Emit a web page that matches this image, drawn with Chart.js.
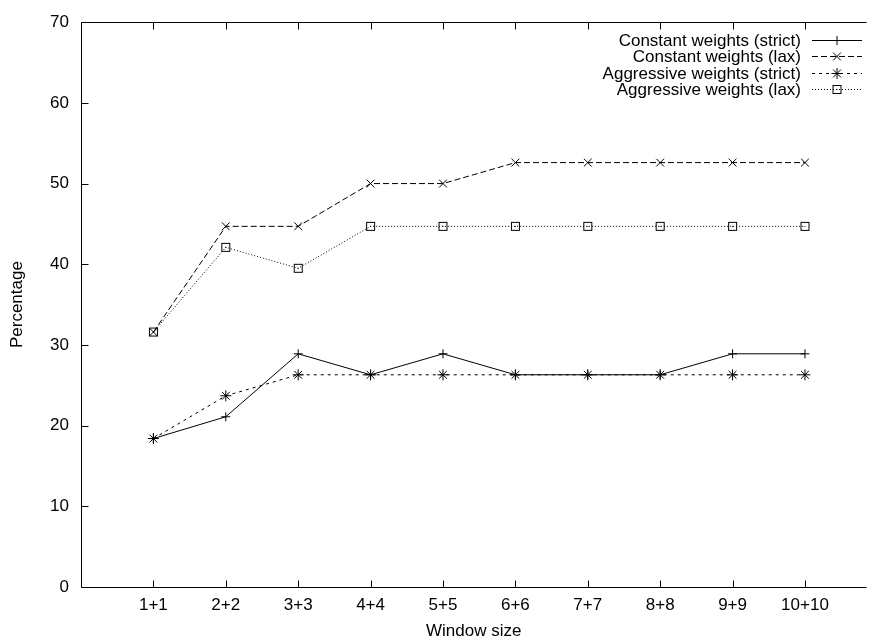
<!DOCTYPE html>
<html>
<head>
<meta charset="utf-8">
<script src="https://cdn.jsdelivr.net/npm/chart.js@4/dist/chart.umd.min.js"></script>
<style>
  html, body { margin: 0; padding: 0; background: #fff; }
  #wrap { width: 873px; height: 639px; }
</style>
</head>
<body>
<div id="wrap"><canvas id="plot"></canvas></div>
<script>
const windowSizes = ['1+1', '2+2', '3+3', '4+4', '5+5', '6+6', '7+7', '8+8', '9+9', '10+10'];
const seriesNames = ['Constant weights (strict)', 'Constant weights (lax)', 'Aggressive weights (strict)', 'Aggressive weights (lax)'];
const constantStrict = [18.4, 21.1, 28.9, 26.3, 28.9, 26.3, 26.3, 26.3, 28.9, 28.9];
const constantLax = [31.6, 44.7, 44.7, 50.0, 50.0, 52.6, 52.6, 52.6, 52.6, 52.6];
const aggressiveStrict = [18.4, 23.7, 26.3, 26.3, 26.3, 26.3, 26.3, 26.3, 26.3, 26.3];
const aggressiveLax = [31.6, 42.1, 39.5, 44.7, 44.7, 44.7, 44.7, 44.7, 44.7, 44.7];
const yTicks = [0, 10, 20, 30, 40, 50, 60, 70];

Chart.defaults.font.family = '"Liberation Sans", Arial, sans-serif';
Chart.defaults.color = '#000';

// gnuplot style box with a dot in the middle
function boxMarker() {
    const c = document.createElement('canvas');
    c.width = 11; c.height = 11;
    const g = c.getContext('2d');
    g.strokeStyle = '#000';
    g.lineWidth = 1;
    g.strokeRect(1.5, 1.5, 8, 8);
    g.fillStyle = '#000';
    g.fillRect(5, 5, 1, 1);
    return c;
}

function toPoints(vals) {
    return vals.map((v, i) => ({ x: i + 1, y: v }));
}

function makeSet(name, vals, dash, style, radius) {
    return {
        label: name,
        data: toPoints(vals),
        borderColor: '#000',
        backgroundColor: '#000',
        borderWidth: 1,
        borderDash: dash,
        pointStyle: style,
        pointRadius: radius,
        pointBorderWidth: 1,
        pointBorderColor: '#000',
        pointBackgroundColor: 'rgba(0,0,0,0)',
        tension: 0,
        fill: false
    };
}

const frame = {
    id: 'frame',
    afterDraw(chart) {
        const ctx = chart.ctx;
        const area = chart.chartArea;
        const xs = chart.scales.x;
        const ys = chart.scales.y;
        const L = Math.round(area.left) + 0.5;
        const T = Math.round(area.top) + 0.5;
        const B = Math.round(area.bottom) + 0.5;
        ctx.save();
        ctx.strokeStyle = '#000';
        ctx.lineWidth = 1;
        ctx.beginPath();
        ctx.moveTo(area.right, T); ctx.lineTo(L, T); ctx.lineTo(L, B); ctx.lineTo(area.right, B);
        // inward ticks
        yTicks.forEach(v => {
            const y = Math.round(ys.getPixelForValue(v)) + 0.5;
            ctx.moveTo(L, y); ctx.lineTo(L + 7, y);
        });
        windowSizes.forEach((s, i) => {
            const x = Math.round(xs.getPixelForValue(i + 1)) + 0.5;
            ctx.moveTo(x, B); ctx.lineTo(x, B - 7);
            ctx.moveTo(x, T); ctx.lineTo(x, T + 7);
        });
        ctx.stroke();

        // legend, gnuplot style
        const rows = [39.5, 56, 72.5, 89];
        ctx.font = '17px "Liberation Sans", Arial, sans-serif';
        ctx.textAlign = 'right';
        ctx.textBaseline = 'middle';
        ctx.fillStyle = '#000';
        chart.data.datasets.forEach((ds, i) => {
            const y = Math.round(rows[i]) + 0.5;
            ctx.fillText(ds.label, 801, y + 1);
            ctx.beginPath();
            ctx.setLineDash(ds.borderDash || []);
            ctx.moveTo(812, y);
            ctx.lineTo(862, y);
            ctx.stroke();
            ctx.setLineDash([]);
            Chart.helpers.drawPoint(ctx, {
                pointStyle: ds.pointStyle, radius: ds.pointRadius, rotation: 0, borderWidth: 1
            }, 837, y);
        });
        ctx.restore();
    }
};

new Chart(document.getElementById('plot'), {
    type: 'line',
    data: {
        datasets: [
            makeSet(seriesNames[0], constantStrict, [], 'cross', 4.5),
            makeSet(seriesNames[1], constantLax, [6, 3], 'crossRot', 5.5),
            makeSet(seriesNames[2], aggressiveStrict, [3, 4], 'star', 5.5),
            makeSet(seriesNames[3], aggressiveLax, [1, 2], boxMarker(), 5)
        ]
    },
    options: {
        responsive: true,
        maintainAspectRatio: false,
        animation: false,
        layout: { padding: { top: 22, right: 0, left: 0, bottom: 0 } },
        plugins: {
            legend: { display: false },
            tooltip: { enabled: false }
        },
        scales: {
            x: {
                type: 'linear',
                min: 0,
                max: 10.85,
                grid: { display: false, drawTicks: false },
                border: { display: false },
                afterFit: s => { s.height = 52; },
                afterBuildTicks: s => {
                    s.ticks = windowSizes.map((w, i) => ({ value: i + 1 }));
                },
                ticks: {
                    autoSkip: false,
                    maxRotation: 0,
                    padding: 8,
                    font: { size: 17 },
                    callback: v => windowSizes[v - 1] || ''
                },
                title: {
                    display: true,
                    text: 'Window size',
                    font: { size: 17 },
                    padding: { top: 0, bottom: -3 }
                }
            },
            y: {
                min: 0,
                max: 70,
                grid: { display: false, drawTicks: false },
                border: { display: false },
                afterFit: s => { s.width = 81; },
                afterBuildTicks: s => {
                    s.ticks = yTicks.map(v => ({ value: v }));
                },
                ticks: {
                    padding: 12,
                    font: { size: 17 }
                },
                title: {
                    display: true,
                    text: 'Percentage',
                    font: { size: 17 },
                    padding: { top: 7, bottom: 0 }
                }
            }
        }
    },
    plugins: [frame]
});
</script>
</body>
</html>
